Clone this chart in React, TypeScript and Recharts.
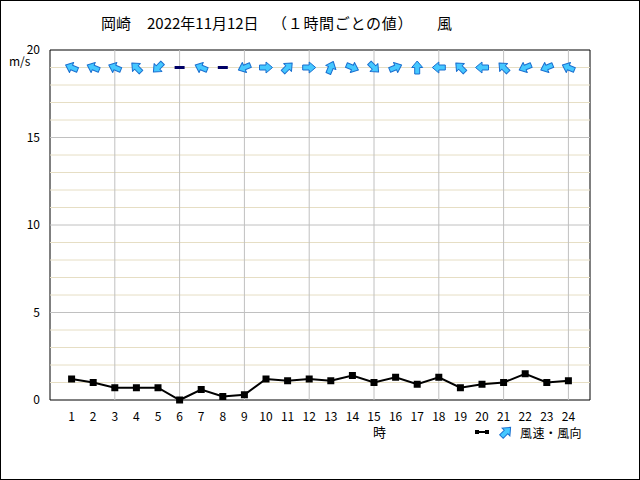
import React from 'react';
import { ComposedChart, Line, Scatter, XAxis, YAxis, ReferenceLine, ReferenceArea } from 'recharts';

const hours = [1, 2, 3, 4, 5, 6, 7, 8, 9, 10, 11, 12, 13, 14, 15, 16, 17, 18, 19, 20, 21, 22, 23, 24];
const windSpeed = [1.2, 1.0, 0.7, 0.7, 0.7, 0.0, 0.6, 0.2, 0.3, 1.2, 1.1, 1.2, 1.1, 1.4, 1.0, 1.3, 0.9, 1.3, 0.7, 0.9, 1.0, 1.5, 1.0, 1.1];
const windDir = ['東南東', '東南東', '東南東', '南東', '北東', '静穏', '東南東', '静穏', '東北東', '西', '南西', '西', '南南西', '西北西', '北西', '西南西', '南', '東', '南東', '東', '南東', '東北東', '東北東', '東南東'];
const yTicks = [0, 5, 10, 15, 20];
const minorY = [1, 2, 3, 4, 6, 7, 8, 9, 11, 12, 13, 14, 16, 17, 18, 19];
const majorY = [5, 10, 15];
const majorX = [3, 6, 9, 12, 15, 18, 21, 24];
const arrowLevel = 19;
const titleParts = ['岡崎', '2022年11月12日', '（１時間ごとの値）', '風'];

const bearings: Record<string, number> = {
  '北': 0, '北北東': 22.5, '北東': 45, '東北東': 67.5, '東': 90, '東南東': 112.5, '南東': 135, '南南東': 157.5,
  '南': 180, '南南西': 202.5, '南西': 225, '西南西': 247.5, '西': 270, '西北西': 292.5, '北西': 315, '北北西': 337.5,
};

const data = hours.map((h, i) => ({ hour: h, speed: windSpeed[i], arrow: arrowLevel, dir: windDir[i] }));

const FONT = '"Noto Sans CJK JP", "DejaVu Sans", sans-serif';
const ARROW_PATH = 'M-6.5,-2.5 L0,-2.5 L0,-5.5 L6.5,0 L0,5.5 L0,2.5 L-6.5,2.5 Z';

const ArrowShape = (props: any) => {
  const { cx, cy, payload } = props;
  if (cx == null || cy == null) return null;
  const dir = payload.dir as string;
  if (dir === '静穏') {
    return <rect x={cx - 5} y={cy - 1.5} width={10} height={3} fill="#000066" />;
  }
  const pointing = (bearings[dir] + 180) % 360;
  return (
    <path d={ARROW_PATH} transform={`translate(${cx},${cy}) rotate(${pointing - 90})`} fill="#45c8ff" stroke="#1a6fd0" strokeWidth={1} strokeLinejoin="round" />
  );
};

const SquareDot = (props: any) => {
  const { cx, cy } = props;
  if (cx == null || cy == null) return null;
  return <rect x={cx - 3.5} y={cy - 3.5} width={7} height={7} fill="#000" />;
};

const titleLefts = [101, 147, 272, 437];

export default function App() {
  return (
    <div style={{ position: 'fixed', left: 0, top: 0, width: 640, height: 480, background: '#fff', fontFamily: FONT }}>
      <div style={{ position: 'absolute', left: 0, top: 0, width: 640, height: 480, border: '1px solid #000', boxSizing: 'border-box', pointerEvents: 'none', zIndex: 2 }} />
      {titleParts.map((t, i) => (
        <div key={i} style={{ position: 'absolute', left: titleLefts[i], top: 13, fontSize: 15, lineHeight: '20px', whiteSpace: 'pre', color: '#000', letterSpacing: i === 2 ? 0.7 : 0 }}>{t}</div>
      ))}
      <div style={{ position: 'absolute', left: 9, top: 54, fontSize: 12, lineHeight: '14px', color: '#000' }}>m/s</div>
      <div style={{ position: 'absolute', left: 373, top: 424, fontSize: 13, lineHeight: '16px', color: '#000' }}>時</div>
      <div style={{ position: 'absolute', left: 474, top: 424, height: 16, display: 'flex', alignItems: 'center' }}>
        <svg width={16} height={16}>
          <line x1={2} y1={8} x2={13} y2={8} stroke="#000" strokeWidth={2} />
          <rect x={1} y={6} width={4} height={4} fill="#000" />
          <rect x={11} y={6} width={4} height={4} fill="#000" />
        </svg>
        <svg width={20} height={16} style={{ marginLeft: 6 }}>
          <path d={ARROW_PATH} transform="translate(10,8) rotate(-45)" fill="#45c8ff" stroke="#1a6fd0" strokeWidth={1} />
        </svg>
        <span style={{ fontSize: 12, marginLeft: 4, color: '#000', letterSpacing: 0.4 }}>風速・風向</span>
      </div>
      <ComposedChart width={640} height={480} data={data} margin={{ top: 50, right: 50, bottom: 50, left: 0 }}>
        <XAxis dataKey="hour" type="number" domain={[0, 25]} ticks={hours} interval={0} allowDecimals={false}
          axisLine={false} tickLine={false} height={30}
          tick={{ fontSize: 12, fill: '#000', fontFamily: FONT }} tickMargin={6} />
        <YAxis type="number" domain={[0, 20]} ticks={yTicks} interval={0} width={50}
          axisLine={false} tickLine={false}
          tick={{ fontSize: 12, fill: '#000', fontFamily: FONT }} tickMargin={4} />
        {minorY.map((v) => (
          <ReferenceLine key={'my' + v} y={v} stroke="#e6dec4" strokeWidth={1} />
        ))}
        {majorY.map((v) => (
          <ReferenceLine key={'My' + v} y={v} stroke="#c0c0c0" strokeWidth={1} />
        ))}
        {majorX.map((v) => (
          <ReferenceLine key={'Mx' + v} x={v} stroke="#c0c0c0" strokeWidth={1} />
        ))}
        <ReferenceArea x1={0} x2={25} y1={0} y2={20} fill="none" stroke="#000" strokeWidth={1} fillOpacity={0} />
        <Line dataKey="speed" stroke="#000" strokeWidth={2} dot={<SquareDot />} activeDot={false} isAnimationActive={false} />
        <Scatter dataKey="arrow" shape={<ArrowShape />} isAnimationActive={false} />
      </ComposedChart>
    </div>
  );
}
